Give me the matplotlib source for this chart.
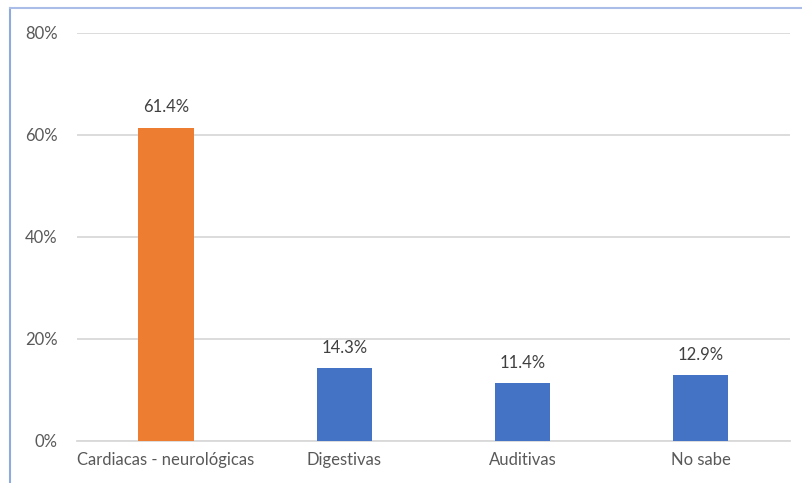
import matplotlib.pyplot as plt
from matplotlib.lines import Line2D
from matplotlib.ticker import PercentFormatter

categories = ['Cardiacas - neurológicas', 'Digestivas', 'Auditivas', 'No sabe']
values = [0.614, 0.143, 0.114, 0.129]
labels = ['61.4%', '14.3%', '11.4%', '12.9%']
colors = ['#ED7D31', '#4472C4', '#4472C4', '#4472C4']

plt.rcParams['font.family'] = ['Lato', 'DejaVu Sans']

fig = plt.figure(figsize=(8.02, 4.83), dpi=100)
ax = fig.add_axes([0.096, 0.087, 0.889, 0.845])

x = range(len(categories))
bars = ax.bar(x, values, width=0.31, color=colors, zorder=3)

for b, lab in zip(bars, labels):
    ax.text(b.get_x() + b.get_width() / 2, b.get_height() + 0.024, lab,
            ha='center', va='bottom', fontsize=12, color='#404040')

ax.set_xlim(-0.5, len(categories) - 0.5)
ax.set_ylim(0, 0.8)
ax.set_yticks([0, 0.2, 0.4, 0.6, 0.8])
ax.yaxis.set_major_formatter(PercentFormatter(1.0, decimals=0))
ax.set_xticks(list(x))
ax.set_xticklabels(categories)
ax.grid(axis='y', color='#d9d9d9', linewidth=1.3, zorder=0)
for s in ['top', 'right', 'left']:
    ax.spines[s].set_visible(False)
ax.spines['bottom'].set_color('#d9d9d9')
ax.spines['bottom'].set_linewidth(1.3)
ax.tick_params(axis='both', length=0, labelsize=12, labelcolor='#595959')
ax.tick_params(axis='y', pad=14)
ax.tick_params(axis='x', pad=8)

# outer frame (left and top only are visible in the source)
fig.add_artist(Line2D([10 / 802, 10 / 802], [0, 1 - 8 / 483], color='#8faadc', linewidth=1.5, transform=fig.transFigure))
fig.add_artist(Line2D([10 / 802, 1], [1 - 8 / 483, 1 - 8 / 483], color='#a9bde8', linewidth=1.5, transform=fig.transFigure))

fig.savefig('out.png', dpi=100)
